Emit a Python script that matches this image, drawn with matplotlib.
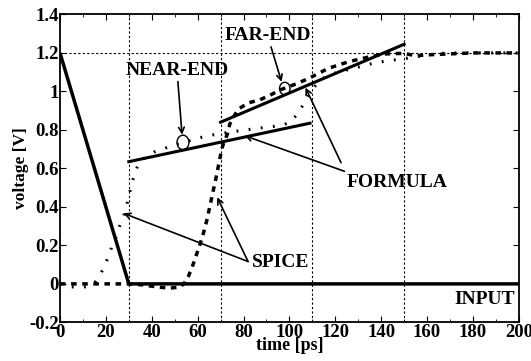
import matplotlib.pyplot as plt
from matplotlib.patches import Ellipse
from matplotlib.ticker import MultipleLocator

plt.rcParams['font.family'] = ['Liberation Serif', 'DejaVu Serif']
plt.rcParams['font.weight'] = 'bold'
plt.rcParams['axes.labelweight'] = 'bold'

# input ramp
t_in = [0, 30, 200]
v_in = [1.2, 0, 0]

# formula (straight segments)
t_form_near = [30, 109]
v_form_near = [0.635, 0.835]
t_form_far = [70, 150]
v_form_far = [0.84, 1.245]

# SPICE near-end (dotted)
t_near = [0, 4, 8, 12, 15, 17, 19, 20.5, 22, 23, 25, 26, 27.5, 28.5, 29.5, 30.5,
          31.5, 33, 35, 41, 47, 51, 54, 61, 67, 75, 84, 90, 96, 100, 103, 106,
          110, 113, 117, 122, 128, 135, 142, 150, 155, 164, 170, 180, 190, 200]
v_near = [0, -0.014, -0.019, -0.014, 0.003, 0.04, 0.08, 0.125, 0.17, 0.21, 0.255,
          0.30, 0.34, 0.385, 0.43, 0.48, 0.53, 0.59, 0.64, 0.685, 0.71, 0.725,
          0.735, 0.76, 0.775, 0.79, 0.805, 0.814, 0.822, 0.838, 0.875, 0.93,
          1.01, 1.055, 1.085, 1.103, 1.12, 1.142, 1.158, 1.17, 1.18, 1.196,
          1.2, 1.2, 1.2, 1.2]

# SPICE far-end (dashed)
t_far = [0, 10, 20, 30, 36, 40, 44, 48, 52, 54, 56, 58, 60, 62, 64, 66, 68, 70,
         71, 73, 74, 76, 78, 82, 87, 91.5, 96, 102, 108, 117, 126, 135, 142, 150,
         155, 160, 170, 180, 190, 200]
v_far = [0, 0, 0, 0, -0.005, -0.012, -0.018, -0.022, -0.017, 0.0, 0.04, 0.10,
         0.17, 0.24, 0.33, 0.44, 0.55, 0.67, 0.72, 0.78, 0.83, 0.875, 0.91, 0.94,
         0.956, 0.98, 1.008, 1.035, 1.065, 1.12, 1.155, 1.18, 1.195, 1.198,
         1.185, 1.19, 1.195, 1.2, 1.2, 1.2]

grid_x = [30, 70, 110, 150]
grid_y = [1.2]

fig = plt.figure(figsize=(5.31, 3.61), dpi=100)
ax = fig.add_axes([0.113, 0.107, 0.864, 0.853])

for gx in grid_x:
    ax.axvline(gx, color='black', lw=0.8, ls=(0, (2, 2)), zorder=1)
for gy in grid_y:
    ax.axhline(gy, color='black', lw=0.8, ls=(0, (2, 2)), zorder=1)

ax.plot(t_in, v_in, color='black', lw=2.5, solid_capstyle='butt', zorder=3)
ax.plot(t_form_near, v_form_near, color='black', lw=2.2, zorder=3)
ax.plot(t_form_far, v_form_far, color='black', lw=2.2, zorder=3)
ax.plot(t_near, v_near, color='black', lw=2.2, ls=(0, (0.6, 3.4)), zorder=2)
ax.plot(t_far, v_far, color='black', lw=2.5, ls=(0, (1.6, 1.6)), zorder=2)

# circles marking the probes
ax.add_patch(Ellipse((53.6, 0.735), 5.2, 0.075, fill=False, lw=1, color='black'))
ax.add_patch(Ellipse((98.0, 1.015), 4.6, 0.065, fill=False, lw=1, color='black'))

fs = 14
arr = dict(arrowstyle='->', color='black', lw=1.2, shrinkA=0, shrinkB=0,
           mutation_scale=10)
ax.annotate('FAR-END', xy=(96.6, 1.05), xytext=(90.5, 1.29), fontweight='bold',
            ha='center', va='center', fontsize=fs, arrowprops=arr)
ax.annotate('NEAR-END', xy=(53.2, 0.775), xytext=(51, 1.11), fontweight='bold',
            ha='center', va='center', fontsize=fs, arrowprops=arr)
ax.annotate('', xy=(80.5, 0.77), xytext=(124, 0.585), arrowprops=arr)
ax.annotate('', xy=(107, 1.02), xytext=(122.5, 0.63), arrowprops=arr)
ax.text(147, 0.525, 'FORMULA', ha='center', va='center', fontsize=fs,
        fontweight='bold')
ax.annotate('', xy=(27.6, 0.367), xytext=(82, 0.116), arrowprops=arr)
ax.annotate('', xy=(68.5, 0.45), xytext=(82, 0.116), arrowprops=arr)
ax.text(96, 0.11, 'SPICE', ha='center', va='center', fontsize=fs,
        fontweight='bold')
ax.text(198.5, -0.083, 'INPUT', ha='right', va='center', fontsize=fs,
        fontweight='bold')

ax.set_xlim(0, 200)
ax.set_ylim(-0.2, 1.4)
ax.xaxis.set_major_locator(MultipleLocator(20))
ax.xaxis.set_minor_locator(MultipleLocator(10))
ax.set_yticks([-0.2, 0, 0.2, 0.4, 0.6, 0.8, 1, 1.2, 1.4])
ax.set_yticklabels(['-0.2', '0', '0.2', '0.4', '0.6', '0.8', '1', '1.2', '1.4'])
ax.tick_params(which='both', direction='in', top=True, right=True,
               labelsize=13.5, pad=1)
ax.tick_params(which='major', length=4)
ax.tick_params(which='minor', length=2.5)
for s in ax.spines.values():
    s.set_linewidth(1.3)

ax.set_xlabel('time [ps]', fontsize=13, fontweight='bold', labelpad=-2.5)
ax.set_ylabel('voltage [V]', fontsize=12.5, fontweight='bold', labelpad=0)

fig.savefig('out.png', dpi=100)
